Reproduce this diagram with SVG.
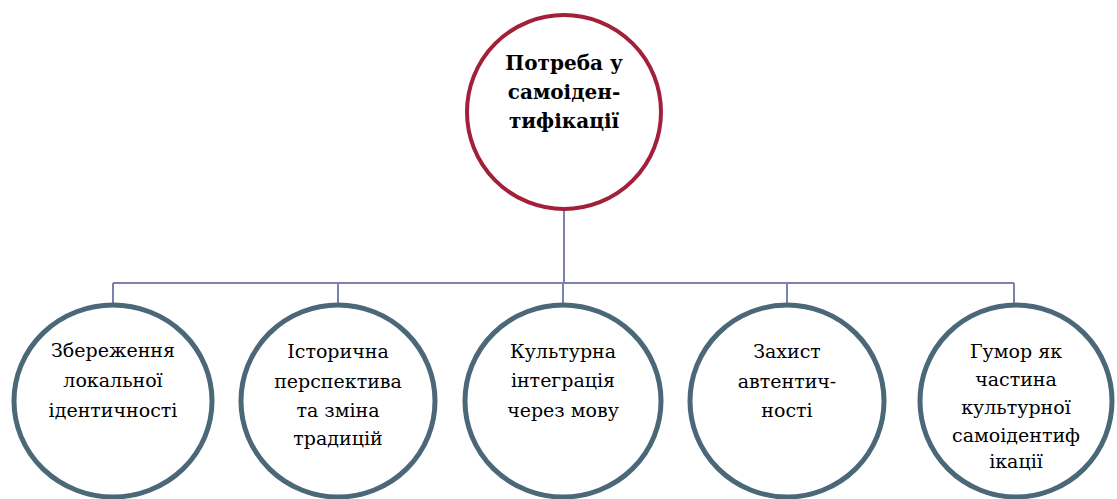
<svg xmlns="http://www.w3.org/2000/svg" width="1117" height="499" viewBox="0 0 1117 499">
<style>
.top{fill:#fff;stroke:#A3203A;stroke-width:4}
.leaf{fill:#fff;stroke:#4A6878;stroke-width:5}
.conn{fill:none;stroke:#8080B0;stroke-width:2}
.tt{font-family:'DejaVu Serif','Liberation Serif',serif;font-size:20px;font-weight:bold;fill:#000;text-anchor:middle}
.lt{font-family:'DejaVu Serif','Liberation Serif',serif;font-size:19px;fill:#000;text-anchor:middle}
</style>
<rect width="1117" height="499" fill="#fff"/>
<g id="connectors">
<path class="conn" d="M564 210V283M113 283H1014M113 283V304M338 283V304M563 283V304M787 283V304M1014 283V304"/>
</g>
<g id="root">
<circle class="top" cx="564" cy="112" r="97"/>
<text class="tt" x="564" y="70">Потреба у</text>
<text class="tt" x="564" y="99">самоіден-</text>
<text class="tt" x="564" y="128">тифікації</text>
</g>
<g id="n1">
<ellipse class="leaf" cx="113" cy="401" rx="99" ry="96"/>
<text class="lt" x="113" y="357">Збереження</text>
<text class="lt" x="113" y="387">локальної</text>
<text class="lt" x="113" y="417">ідентичності</text>
</g>
<g id="n2">
<ellipse class="leaf" cx="338" cy="401" rx="97" ry="96"/>
<text class="lt" x="338" y="358">Історична</text>
<text class="lt" x="338" y="388">перспектива</text>
<text class="lt" x="338" y="417">та зміна</text>
<text class="lt" x="338" y="445">традицій</text>
</g>
<g id="n3">
<ellipse class="leaf" cx="563" cy="401" rx="98" ry="96"/>
<text class="lt" x="563" y="358">Культурна</text>
<text class="lt" x="563" y="387">інтеграція</text>
<text class="lt" x="563" y="417">через мову</text>
</g>
<g id="n4">
<ellipse class="leaf" cx="787" cy="401" rx="97" ry="96"/>
<text class="lt" x="787" y="358">Захист</text>
<text class="lt" x="787" y="388">автентич-</text>
<text class="lt" x="787" y="417">ності</text>
</g>
<g id="n5">
<ellipse class="leaf" cx="1016" cy="401" rx="96" ry="96"/>
<text class="lt" x="1016" y="358">Гумор як</text>
<text class="lt" x="1016" y="386">частина</text>
<text class="lt" x="1016" y="414">культурної</text>
<text class="lt" x="1016" y="442">самоідентиф</text>
<text class="lt" x="1016" y="468">ікації</text>
</g>
</svg>
